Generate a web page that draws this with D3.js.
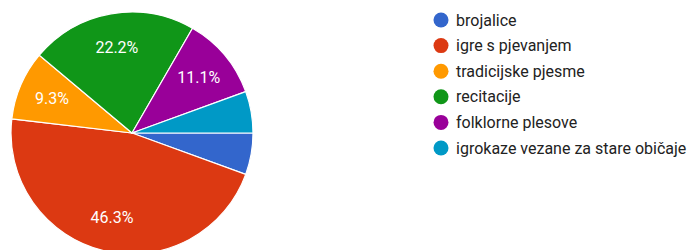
<!DOCTYPE html>
<html><head><meta charset="utf-8">
<script src="https://cdn.jsdelivr.net/npm/d3@7"></script>
<style>body{margin:0;background:#fff;}svg{display:block;}</style>
</head><body>
<svg id="c" width="694" height="250"></svg>
<script>
const categories = ["brojalice","igre s pjevanjem","tradicijske pjesme","recitacije","folklorne plesove","igrokaze vezane za stare običaje"];
const counts = [3,25,5,12,6,3];
const colors = ["#3366cc","#dc3912","#ff9900","#109618","#990099","#0099c6"];

const svg = d3.select("#c");
const cx = 132, cy = 133, r = 121;
const total = d3.sum(counts);
const pie = d3.pie().sort(null).value(d=>d).startAngle(Math.PI/2).endAngle(Math.PI/2 + 2*Math.PI);
const arcs = pie(counts);
const arc = d3.arc().innerRadius(0).outerRadius(r);
const labelArc = d3.arc().innerRadius(r*0.72).outerRadius(r*0.72);
const g = svg.append("g").attr("transform",`translate(${cx},${cy})`);
g.selectAll("path").data(arcs).join("path")
  .attr("d",arc).attr("fill",(d,i)=>colors[i])
  .attr("stroke","#fff").attr("stroke-width",1.2);
g.selectAll("text").data(arcs.filter(d=>d.value/total>0.07)).join("text")
  .attr("transform",d=>`translate(${labelArc.centroid(d)})`)
  .attr("text-anchor","middle").attr("dy","0.35em")
  .attr("fill","#fff").attr("font-family","Roboto, Arial, sans-serif").attr("font-size",16)
  .text(d=>d3.format(".1f")(d.value/total*100)+"%");

const lg = svg.append("g").attr("transform","translate(441,20)");
const rows = lg.selectAll("g").data(categories).join("g")
  .attr("transform",(d,i)=>`translate(0,${i*25.6})`);
rows.append("circle").attr("r",7.5).attr("fill",(d,i)=>colors[i]);
rows.append("text").attr("x",15).attr("dy","0.35em")
  .attr("font-family","Roboto, Arial, sans-serif").attr("font-size",16).attr("fill","#222")
  .text(d=>d);
</script>
</body></html>
